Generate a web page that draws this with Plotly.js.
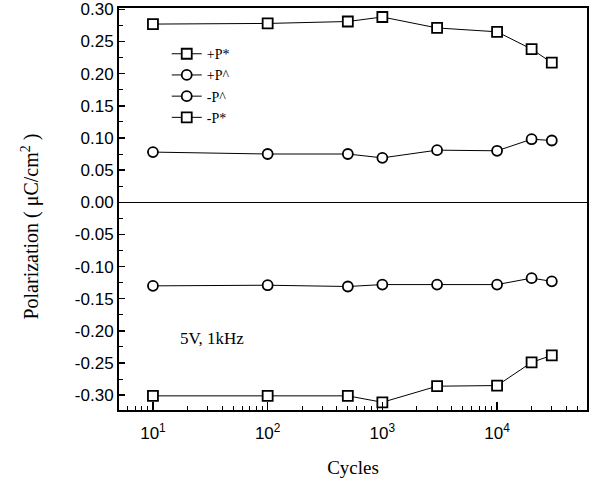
<!DOCTYPE html>
<html>
<head>
<meta charset="utf-8">
<script src="https://cdn.plot.ly/plotly-3.0.1.min.js"></script>
<style>html,body{margin:0;padding:0;background:#fff;}#chart{width:594px;height:483px;}</style>
</head>
<body>
<div id="chart"></div>
<script>
// Data
const cycles = [10, 100, 500, 1000, 3000, 10000, 20000, 30000];
const plusPStar = [0.277, 0.278, 0.281, 0.288, 0.271, 0.265, 0.238, 0.217];
const plusPHat  = [0.078, 0.075, 0.075, 0.069, 0.081, 0.080, 0.098, 0.096];
const minusPHat = [-0.130, -0.129, -0.131, -0.128, -0.128, -0.128, -0.118, -0.123];
const minusPStar = [-0.301, -0.301, -0.301, -0.311, -0.286, -0.285, -0.249, -0.238];
const seriesNames = ['+P*', '+P^', '-P^', '-P*'];

const xTickVals = [10, 100, 1000, 10000];
const xTickText = ['10<sup>1</sup>', '10<sup>2</sup>', '10<sup>3</sup>', '10<sup>4</sup>'];
const xMinorVals = [6, 7, 8, 9, 20, 30, 40, 50, 60, 70, 80, 90,
  200, 300, 400, 500, 600, 700, 800, 900,
  2000, 3000, 4000, 5000, 6000, 7000, 8000, 9000,
  20000, 30000, 40000, 50000, 60000];
const yTickVals = [0.30, 0.25, 0.20, 0.15, 0.10, 0.05, 0.00, -0.05, -0.10, -0.15, -0.20, -0.25, -0.30];
const yTickText = ['0.30', '0.25', '0.20', '0.15', '0.10', '0.05', '0.00', '-0.05', '-0.10', '-0.15', '-0.20', '-0.25', '-0.30'];

const serif = 'Liberation Serif, Times New Roman, serif';
const sans = 'Liberation Sans, Arial, sans-serif';

function trace(y, name, symbol) {
  return {
    x: cycles, y: y, name: name, type: 'scatter', mode: 'lines+markers',
    line: {color: '#000', width: 1},
    marker: {symbol: symbol, size: 10, color: '#fff', line: {color: '#000', width: 1.8}},
    cliponaxis: false
  };
}

const data = [
  trace(plusPStar, seriesNames[0], 'square'),
  trace(plusPHat, seriesNames[1], 'circle'),
  trace(minusPHat, seriesNames[2], 'circle'),
  trace(minusPStar, seriesNames[3], 'square')
];

const layout = {
  width: 594, height: 483,
  paper_bgcolor: '#fff', plot_bgcolor: '#fff',
  margin: {l: 119, r: 7, t: 8, b: 73},
  showlegend: true,
  legend: {
    x: 0.102, y: 0.925, xanchor: 'left', yanchor: 'top',
    bgcolor: 'rgba(0,0,0,0)', borderwidth: 0,
    font: {family: serif, size: 14, color: '#000'},
    tracegroupgap: 0
  },
  xaxis: {
    type: 'log', range: [0.704, 4.784],
    tickmode: 'array', tickvals: xTickVals, ticktext: xTickText,
    ticks: 'inside', ticklen: 8, tickwidth: 1.5, tickcolor: '#000',
    ticklabelstandoff: 7,
    minor: {tickmode: 'array', tickvals: xMinorVals, ticks: 'inside', ticklen: 4, tickwidth: 1, tickcolor: '#000', showgrid: false},
    showline: true, linecolor: '#000', linewidth: 2, mirror: true,
    showgrid: false, zeroline: false,
    tickfont: {family: sans, size: 17, color: '#000'},
    title: {text: 'Cycles', font: {family: serif, size: 19, color: '#000'}, standoff: 18}
  },
  yaxis: {
    range: [-0.323, 0.302],
    tickmode: 'array', tickvals: yTickVals, ticktext: yTickText,
    ticks: 'inside', ticklen: 6, tickwidth: 1.5, tickcolor: '#000',
    minor: {dtick: 0.025, tick0: 0, ticks: 'inside', ticklen: 4, tickwidth: 1, tickcolor: '#000', showgrid: false},
    showline: true, linecolor: '#000', linewidth: 2, mirror: true,
    showgrid: false, zeroline: true, zerolinecolor: '#000', zerolinewidth: 1.5,
    tickfont: {family: sans, size: 17, color: '#000'}
  },
  annotations: [{
    xref: 'paper', yref: 'paper', x: 0.199, y: 0.179,
    xanchor: 'center', yanchor: 'middle',
    text: '5V, 1kHz', showarrow: false,
    font: {family: serif, size: 17, color: '#000'}
  }, {
    xref: 'paper', yref: 'paper', x: -0.190, y: 0.4565,
    xanchor: 'center', yanchor: 'middle', textangle: -90,
    text: 'Polarization ( \u03bcC/cm<sup>2</sup> )', showarrow: false,
    font: {family: serif, size: 20, color: '#000'}
  }]
};

Plotly.newPlot('chart', data, layout, {displayModeBar: false, staticPlot: true});
</script>
</body>
</html>
